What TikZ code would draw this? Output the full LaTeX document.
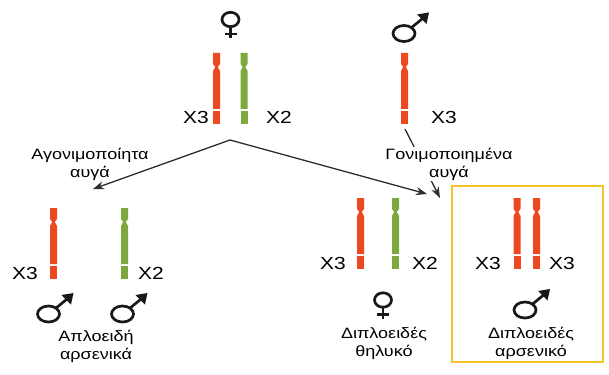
\documentclass[tikz,border=0pt]{standalone}
\usepackage{fontspec}
\setmainfont[FakeStretch=1.2]{Liberation Sans}
\usetikzlibrary{arrows.meta}

\definecolor{chromred}{RGB}{238,72,32}
\definecolor{chromgreen}{RGB}{125,168,62}
\definecolor{boxyellow}{RGB}{245,196,45}
\definecolor{arrowgray}{RGB}{45,45,45}

% chromosome: x, top y, colour
\newcommand{\chrom}[3]{%
  \begin{scope}[shift={(#1,#2)}]
    \fill[#3] (-3.5,0) -- (3.5,0) -- (3.5,11) -- (1.3,14) -- (3.5,18)
      -- (3.5,56) -- (-3.5,56) -- (-3.5,18) -- (-1.3,14) -- (-3.5,11) -- cycle;
    \fill[#3] (-3.5,58) rectangle (3.5,71);
  \end{scope}}

\tikzset{
  sym/.style={line width=2.7pt, black!90},
  female/.pic={
    \draw[sym] (0,0) ellipse (8.5 and 7.2);
    \draw[sym] (0,7.2) -- (0,19) (-6,14.5) -- (6,14.5);
  },
  male/.pic={
    \draw[sym] (0,0) ellipse (11 and 8);
    \draw[sym] (7,-5.5) -- (18,-14.5);
    \fill[black!90] (13,-19) -- (25,-21) -- (22.5,-9.5) -- cycle;
  }
}

\begin{document}
\begin{tikzpicture}[x=1pt, y=-1pt, >={Stealth[length=11pt,width=8pt]},
  lbl/.style={font=\fontsize{17.5}{18}\selectfont, inner sep=1pt},
  legend/.style={font=\fontsize{15}{18}\selectfont, align=center, inner sep=1pt},
  link/.style={->, line width=1.3pt, arrowgray}]
  \useasboundingbox (0,0) rectangle (609,374);

  % parents
  \pic at (230.5,19.5) {female};
  \pic at (404,33.5) {male};
  \chrom{216.5}{53}{chromred}
  \chrom{244}{53}{chromgreen}
  \chrom{404.5}{53}{chromred}
  \node[lbl] (pX3) at (196,117) {X3};
  \node[lbl] (pX2) at (279,117) {X2};
  \node[lbl] (mX3) at (444,117) {X3};

  % crossing
  \coordinate (split) at (230,140);
  \coordinate (haploid) at (93,189);
  \coordinate (diploid) at (427,194);
  \coordinate (sperm) at (405,129);
  \coordinate (fertile) at (440,198);
  \draw[link] (split) -- (haploid);
  \draw[link] (split) -- (diploid);
  \draw[link] (sperm) -- (fertile);
  \node[legend] (unfert) at (90,164) {Αγονιμοποίητα\\αυγά};
  \node[legend, fill=white] (fert) at (449,164) {Γονιμοποιημένα\\αυγά};

  % haploid males
  \chrom{53.5}{208}{chromred}
  \chrom{124.5}{208}{chromgreen}
  \node[lbl] (hX3) at (25,273) {X3};
  \node[lbl] (hX2) at (151,273) {X2};
  \pic at (48.5,314) {male};
  \pic at (122.5,314) {male};
  \node[legend] (hapl) at (96,346) {Απλοειδή\\αρσενικά};

  % diploid female
  \chrom{360.5}{198}{chromred}
  \chrom{395.5}{198}{chromgreen}
  \node[lbl] (fX3) at (333,263) {X3};
  \node[lbl] (fX2) at (425,263) {X2};
  \pic at (383,300) {female};
  \node[legend] (dipf) at (384,343) {Διπλοειδές\\θηλυκό};

  % diploid male
  \draw[boxyellow, line width=1.2pt] (452,186) rectangle (603,362);
  \chrom{517}{198}{chromred}
  \chrom{536.5}{198}{chromred}
  \node[lbl] (dX3a) at (488,263) {X3};
  \node[lbl] (dX3b) at (562,263) {X3};
  \pic at (525,310) {male};
  \node[legend] (dipm) at (531,343) {Διπλοειδές\\αρσενικό};
\end{tikzpicture}
\end{document}
